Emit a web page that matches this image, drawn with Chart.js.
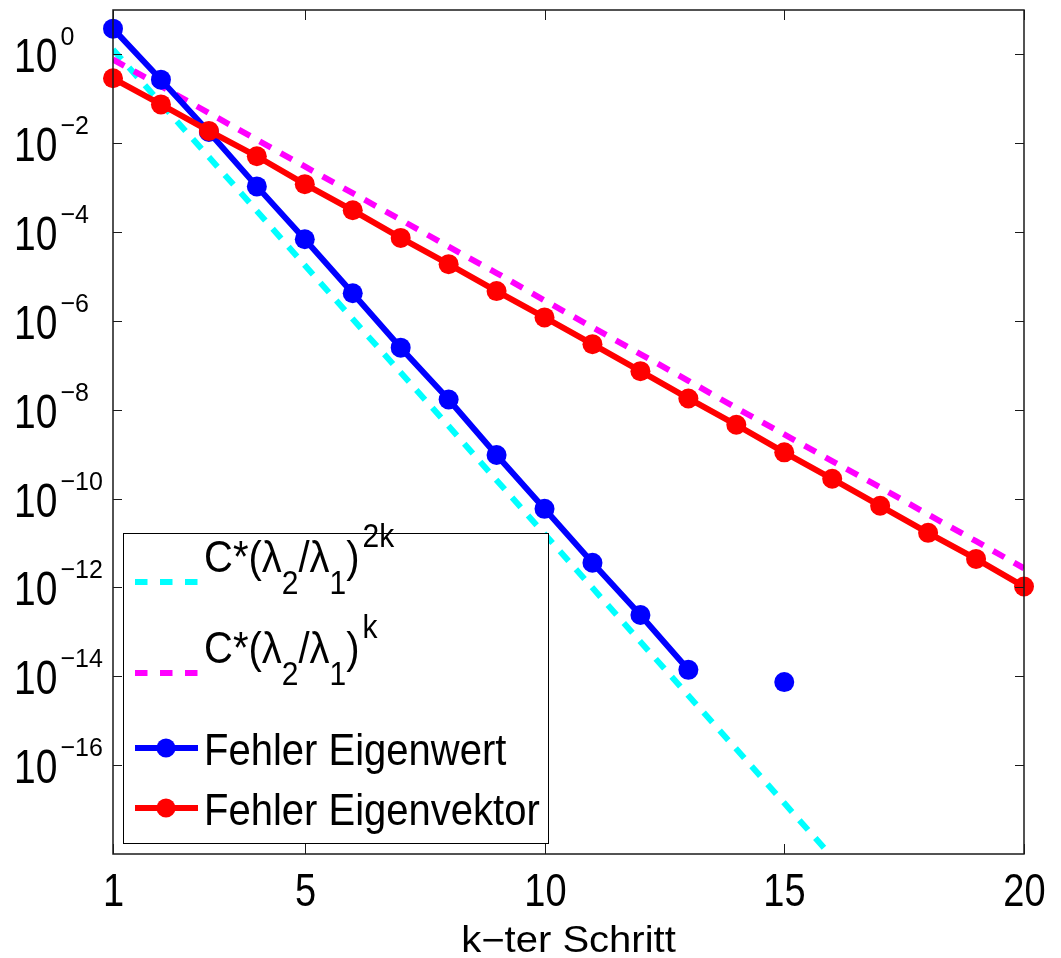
<!DOCTYPE html>
<html>
<head>
<meta charset="utf-8">
<script src="https://cdn.jsdelivr.net/npm/chart.js@4.4.1/dist/chart.umd.min.js"></script>
<style>
  html, body { margin: 0; padding: 0; background: #fff; }
  canvas { display: block; }
</style>
</head>
<body>
<canvas id="chart" width="1061" height="958"></canvas>
<script>
// k-ter Schritt
const steps = [1, 2, 3, 4, 5, 6, 7, 8, 9, 10, 11, 12, 13, 14, 15, 16, 17, 18, 19, 20];

// C*(lambda2/lambda1)^2k  (cyan, dashed)
const boundSquared = [1.29, 0.079, 4.9e-3, 3.0e-4, 1.8e-5, 1.1e-6, 6.9e-8, 4.3e-9, 2.6e-10, 1.6e-11,
    9.8e-13, 6.0e-14, 3.7e-15, 2.3e-16, 1.4e-17, 8.5e-19, 5.2e-20, 3.2e-21, 2.0e-22, 1.2e-23];

// C*(lambda2/lambda1)^k  (magenta, dashed)
const boundLinear = [0.77, 0.193, 0.048, 0.012, 3.0e-3, 7.5e-4, 1.9e-4, 4.7e-5, 1.2e-5, 2.9e-6,
    7.2e-7, 1.8e-7, 4.5e-8, 1.1e-8, 2.8e-9, 7.0e-10, 1.8e-10, 4.4e-11, 1.1e-11, 2.7e-12];

// Fehler Eigenwert (blue) - step 14 and 16..20 are exactly zero, so nothing is drawn
const errorEigenvalue = [3.8, 0.27, 0.018, 1.07e-3, 6.9e-5, 4.2e-6, 2.5e-7, 1.7e-8, 9.6e-10, 5.9e-11,
    3.6e-12, 2.4e-13, 1.4e-14, null, 7.4e-15, null, null, null, null, null];

// Fehler Eigenvektor (red)
const errorEigenvector = [0.29, 0.075, 0.019, 5.1e-3, 1.2e-3, 3.1e-4, 7.4e-5, 1.9e-5, 4.7e-6, 1.2e-6,
    3.0e-7, 7.4e-8, 1.8e-8, 4.6e-9, 1.1e-9, 2.8e-10, 6.9e-11, 1.7e-11, 4.4e-12, 1.05e-12];

// axis ticks
const xTicks = [1, 5, 10, 15, 20];
const yTickExponents = [0, -2, -4, -6, -8, -10, -12, -14, -16];

const FONT = '"Liberation Sans", Arial, Helvetica, sans-serif';

function toPoints(values) {
    return steps.map((k, i) => ({ x: k, y: values[i] }));
}

// draws text stretched vertically a bit, like the MATLAB export
function stretchedText(ctx, str, x, y, size, sy, align) {
    ctx.save();
    ctx.font = size + 'px ' + FONT;
    ctx.textAlign = align || 'left';
    ctx.textBaseline = 'alphabetic';
    ctx.translate(x, y);
    ctx.scale(1, sy);
    ctx.fillText(str, 0, 0);
    ctx.restore();
    ctx.font = size + 'px ' + FONT;
    return ctx.measureText(str).width;
}

function line(ctx, x1, y1, x2, y2) {
    ctx.beginPath();
    ctx.moveTo(x1, y1);
    ctx.lineTo(x2, y2);
    ctx.stroke();
}

// legend label pieces: [text, kind] with kind main / sub / sup
const legendLabels = [
    [['C*(\u03bb', 'main'], ['2', 'sub'], ['/\u03bb', 'main'], ['1', 'sub'], [')', 'main'], ['2k', 'sup']],
    [['C*(\u03bb', 'main'], ['2', 'sub'], ['/\u03bb', 'main'], ['1', 'sub'], [')', 'main'], ['k', 'sup']],
    [['Fehler Eigenwert', 'main']],
    [['Fehler Eigenvektor', 'main']]
];

const matlabFrame = {
    id: 'matlabFrame',
    afterDraw(chart) {
        const ctx = chart.ctx;
        const a = chart.chartArea;
        const xs = chart.scales.x;
        const ys = chart.scales.y;
        ctx.save();

        // legend box (white, on top of the lines)
        const box = { left: 123, top: 533, right: 548, bottom: 843 };
        ctx.fillStyle = '#fff';
        ctx.fillRect(box.left, box.top, box.right - box.left, box.bottom - box.top);
        ctx.strokeStyle = '#000';
        ctx.lineWidth = 1;
        ctx.strokeRect(box.left + 0.5, box.top + 0.5, box.right - box.left, box.bottom - box.top);

        const baselines = [572, 663, 765, 825];
        const sampleY = [582, 673, 748, 808];
        // legend order: cyan, magenta, blue, red
        const legendSets = [0, 1, 2, 3].map(i => chart.data.datasets[i]);
        legendSets.forEach((ds, i) => {
            const sy = sampleY[i];
            ctx.save();
            ctx.strokeStyle = ds.borderColor;
            ctx.lineWidth = ds.borderWidth;
            ctx.setLineDash(ds.borderDash ? [12.5, 12.5] : []);
            line(ctx, 135, sy, 198, sy);
            ctx.restore();
            if (ds.pointRadius > 0) {
                ctx.fillStyle = ds.borderColor;
                ctx.beginPath();
                ctx.arc(166, sy, ds.pointRadius - 0.5, 0, Math.PI * 2);
                ctx.fill();
            }
            ctx.fillStyle = '#000';
            let x = 204;
            const b = baselines[i];
            legendLabels[i].forEach(([txt, kind]) => {
                if (kind === 'main') x += stretchedText(ctx, txt, x, b, 40, 1.12);
                else if (kind === 'sub') x += stretchedText(ctx, txt, x, b + 22, 30, 1.12);
                else x += stretchedText(ctx, txt, x + 3, b - 25, 30, 1.12);
            });
        });

        // axes box
        ctx.strokeStyle = '#1a1a1a';
        ctx.lineWidth = 1.5;
        ctx.strokeRect(a.left, a.top, a.right - a.left, a.bottom - a.top);

        // inward ticks + labels
        ctx.lineWidth = 1;
        ctx.fillStyle = '#000';
        ys.ticks.forEach((t, i) => {
            const y = Math.round(ys.getPixelForValue(t.value)) + 0.5;
            line(ctx, a.left, y, a.left + 9, y);
            line(ctx, a.right - 9, y, a.right, y);
            const w = stretchedText(ctx, '10', 14, y + 17, 39, 1.22);
            const e = yTickExponents[i];
            const expText = e < 0 ? '\u2212' + (-e) : String(e);
            stretchedText(ctx, expText, 14 + w + 3, y - 10, 25, 1.05);
        });
        xs.ticks.forEach(t => {
            const x = Math.round(xs.getPixelForValue(t.value)) + 0.5;
            line(ctx, x, a.bottom, x, a.bottom - 10);
            line(ctx, x, a.top, x, a.top + 10);
            stretchedText(ctx, String(t.value), x, 906, 38, 1.22, 'center');
        });

        // x axis title
        stretchedText(ctx, 'k\u2212ter Schritt', (a.left + a.right) / 2, 952, 40, 0.9, 'center');
        ctx.restore();
    }
};

new Chart(document.getElementById('chart'), {
    type: 'line',
    data: {
        datasets: [
            {
                label: 'C*(l2/l1)^2k',
                data: toPoints(boundSquared),
                borderColor: '#00ffff',
                borderWidth: 6,
                borderDash: [13, 11],
                pointRadius: 0,
                clip: 0,
                order: 3
            },
            {
                label: 'C*(l2/l1)^k',
                data: toPoints(boundLinear),
                borderColor: '#ff00ff',
                borderWidth: 6,
                borderDash: [13, 11],
                pointRadius: 0,
                clip: 0,
                order: 2
            },
            {
                label: 'Fehler Eigenwert',
                data: toPoints(errorEigenvalue),
                borderColor: '#0000ff',
                backgroundColor: '#0000ff',
                pointBackgroundColor: '#0000ff',
                pointBorderColor: '#0000ff',
                borderWidth: 6,
                pointRadius: 10,
                pointBorderWidth: 0,
                spanGaps: false,
                clip: false,
                order: 1
            },
            {
                label: 'Fehler Eigenvektor',
                data: toPoints(errorEigenvector),
                borderColor: '#ff0000',
                backgroundColor: '#ff0000',
                pointBackgroundColor: '#ff0000',
                pointBorderColor: '#ff0000',
                borderWidth: 6,
                pointRadius: 10,
                pointBorderWidth: 0,
                clip: false,
                order: 0
            }
        ]
    },
    options: {
        responsive: false,
        devicePixelRatio: 1,
        animation: false,
        layout: { padding: { left: 0, right: 37, top: 9, bottom: 0 } },
        plugins: {
            legend: { display: false },
            tooltip: { enabled: false }
        },
        elements: { line: { tension: 0, borderCapStyle: 'butt' } },
        scales: {
            x: {
                type: 'linear',
                position: 'bottom',
                min: 1,
                max: 20,
                grid: { display: false },
                border: { display: false },
                ticks: { display: false },
                afterBuildTicks: scale => { scale.ticks = xTicks.map(v => ({ value: v })); },
                afterFit: scale => { scale.height = 104; }
            },
            y: {
                type: 'logarithmic',
                position: 'left',
                min: 1e-18,
                max: 10,
                grid: { display: false },
                border: { display: false },
                ticks: { display: false },
                afterBuildTicks: scale => { scale.ticks = yTickExponents.map(e => ({ value: Math.pow(10, e) })); },
                afterFit: scale => { scale.width = 113; }
            }
        }
    },
    plugins: [matlabFrame]
});
</script>
</body>
</html>
